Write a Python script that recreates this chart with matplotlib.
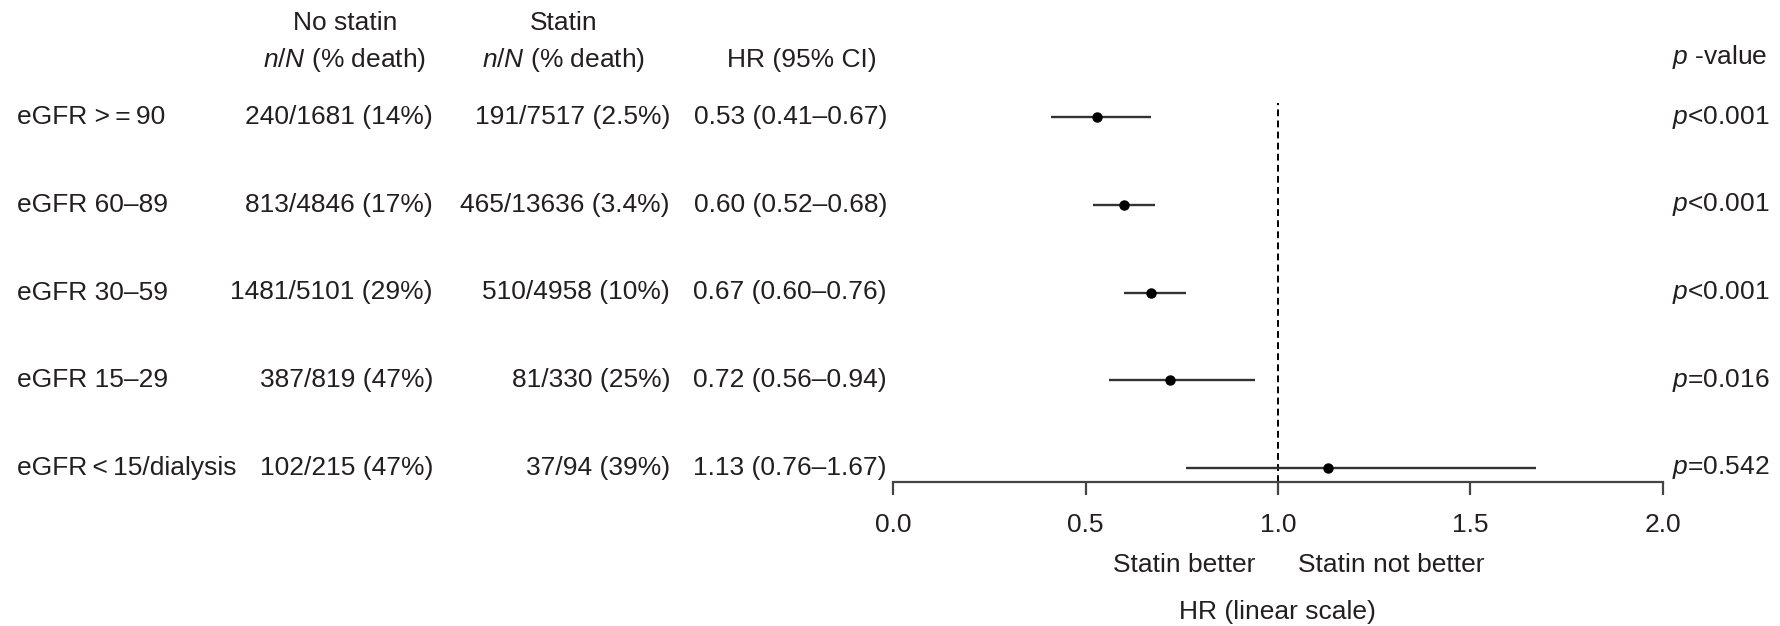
import matplotlib
matplotlib.use("Agg")
import matplotlib.pyplot as plt
from matplotlib.transforms import blended_transform_factory

plt.rcParams["font.family"] = ["Liberation Sans", "DejaVu Sans"]
plt.rcParams["mathtext.fontset"] = "custom"
plt.rcParams["mathtext.it"] = "Liberation Sans:italic"
plt.rcParams["mathtext.rm"] = "Liberation Sans"
plt.rcParams["font.size"] = 19

groups = ["eGFR >\u2009=\u200990", "eGFR 60–89", "eGFR 30–59", "eGFR 15–29",
          "eGFR\u2009<\u200915/dialysis"]
no_statin = ["240/1681 (14%)", "813/4846 (17%)", "1481/5101 (29%)", "387/819 (47%)", "102/215 (47%)"]
statin = ["191/7517 (2.5%)", "465/13636 (3.4%)", "510/4958 (10%)", "81/330 (25%)", "37/94 (39%)"]
hr = [0.53, 0.60, 0.67, 0.72, 1.13]
ci_lo = [0.41, 0.52, 0.60, 0.56, 0.76]
ci_hi = [0.67, 0.68, 0.76, 0.94, 1.67]
p_text = [r"$p$<0.001", r"$p$<0.001", r"$p$<0.001", r"$p$=0.016", r"$p$=0.542"]
xticks = [0.0, 0.5, 1.0, 1.5, 2.0]

W, H = 1781, 626
TXT = "#231f20"

fig = plt.figure(figsize=(W / 100, H / 100), dpi=100)
# forest panel: x 0..2 spans pixels 893..1663, spine at y=482
ax = fig.add_axes([893 / W, 1 - 482 / H, 770 / W, 379 / H])

n = len(groups)
ys = list(range(n, 0, -1))  # top row first

ax.hlines(ys, ci_lo, ci_hi, color="#333333", lw=1.7, zorder=2)
ax.plot(hr, ys, "o", color="black", ms=6.5, zorder=3)
ax.axvline(1.0, color="black", lw=1.4, ls=(0, (3.5, 2.2)), zorder=1)

ax.set_xlim(0, 2)
ax.set_ylim(0.84, n + 0.16)
for s in ["top", "right", "left"]:
    ax.spines[s].set_visible(False)
ax.spines["bottom"].set_bounds(0, 2)
ax.spines["bottom"].set_color("#444444")
ax.spines["bottom"].set_linewidth(1.6)
ax.set_yticks([])
ax.set_xticks(xticks)
ax.set_xticklabels([f"{t:.1f}" for t in xticks], color=TXT)
ax.tick_params(axis="x", direction="out", length=9.4, width=1.6,
               color="#444444", pad=13, labelsize=19)

# text columns: x in figure pixels, y in data rows
def fx(px):
    return px / W

row_tr = blended_transform_factory(fig.transFigure, ax.transData)
for y, g, a, b, h, lo, hi, p in zip(ys, groups, no_statin, statin, hr, ci_lo, ci_hi, p_text):
    ax.text(fx(17), y, g, transform=row_tr, ha="left", va="center", color=TXT)
    ax.text(fx(433), y, a, transform=row_tr, ha="right", va="center", color=TXT)
    ax.text(fx(670), y, b, transform=row_tr, ha="right", va="center", color=TXT)
    ax.text(fx(887), y, f"{h:.2f} ({lo:.2f}–{hi:.2f})", transform=row_tr,
            ha="right", va="center", color=TXT)
    ax.text(fx(1672), y, p, transform=row_tr, ha="left", va="center", color=TXT)

# column headers
def fy(py):
    return 1 - py / H

fig.text(fx(345), fy(23), "No statin", ha="center", va="center", color=TXT)
fig.text(fx(345), fy(60), r"$n/N$ (% death)", ha="center", va="center", color=TXT)
fig.text(fx(564), fy(23), "Statin", ha="center", va="center", color=TXT)
fig.text(fx(564), fy(60), r"$n/N$ (% death)", ha="center", va="center", color=TXT)
fig.text(fx(877), fy(60), "HR (95% CI)", ha="right", va="center", color=TXT)
fig.text(fx(1672), fy(57), r"$p$ -value", ha="left", va="center", color=TXT)

# direction labels under the axis
fig.text(fx(1255), fy(565), "Statin better", ha="right", va="center", color=TXT)
fig.text(fx(1298), fy(565), "Statin not better", ha="left", va="center", color=TXT)
fig.text(fx(1277), fy(612), "HR (linear scale)", ha="center", va="center", color=TXT)

fig.savefig("out.png", dpi=100)
